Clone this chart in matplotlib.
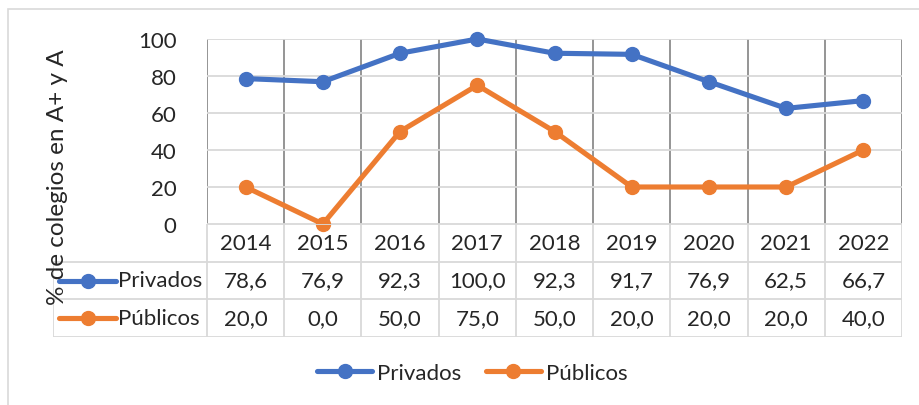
import matplotlib
matplotlib.use("Agg")
import matplotlib.pyplot as plt
from matplotlib.lines import Line2D
from matplotlib.patches import Rectangle

years = ["2014", "2015", "2016", "2017", "2018", "2019", "2020", "2021", "2022"]
privados = [78.6, 76.9, 92.3, 100.0, 92.3, 91.7, 76.9, 62.5, 66.7]
publicos = [20.0, 0.0, 50.0, 75.0, 50.0, 20.0, 20.0, 20.0, 40.0]
series_names = ["Privados", "Públicos"]
yticks = [0, 20, 40, 60, 80, 100]

BLUE = "#4472C4"
ORANGE = "#ED7D31"
TEXT = "#262626"
LIGHT = "#D9D9D9"
DARK = "#8C8C8C"
FS = 16

plt.rcParams["font.family"] = ["Lato", "DejaVu Sans"]

W, H = 919, 406
fig = plt.figure(figsize=(W / 100, H / 100), dpi=100)

def px(x0, y0, x1, y1):
    # pixel box (top-left origin) -> figure fraction rect
    return [x0 / W, 1 - y1 / H, (x1 - x0) / W, (y1 - y0) / H]

# outer chart frame
fig.add_artist(Rectangle((8 / W, -0.1), 1.2, 1.1 - 10 / H, transform=fig.transFigure,
                         fill=False, edgecolor=LIGHT, linewidth=1.2))

n = len(years)
xs = list(range(n))

ax = fig.add_axes(px(207, 40, 902, 225))
ax.set_xlim(-0.5, n - 0.5)
ax.set_ylim(0, 100)
for s in ax.spines.values():
    s.set_visible(False)
ax.set_yticks(yticks)
ax.set_yticklabels([str(t) for t in yticks], fontsize=FS, color=TEXT)
ax.set_xticks([])
ax.set_xticks([k - 0.5 for k in range(n + 1)], minor=True)
ax.tick_params(axis="both", which="both", length=0, pad=22)
ax.grid(axis="y", which="major", color=LIGHT, linewidth=1.3)
ax.grid(axis="x", which="minor", color=DARK, linewidth=1.3)
ax.set_axisbelow(True)

ax.plot(xs, privados, color=BLUE, lw=3.7, marker="o", ms=10, clip_on=False, zorder=3)
ax.plot(xs, publicos, color=ORANGE, lw=3.7, marker="o", ms=10, clip_on=False, zorder=3)

# data table under the plot
colw = 695 / n
left = -0.5 - (207 - 53) / colw
tab = fig.add_axes(px(53, 225, 902, 338))
tab.set_xlim(left, n - 0.5)
tab.set_ylim(3, 0)
tab.axis("off")

tab.hlines(0, -0.5, n - 0.5, color=LIGHT, lw=1.3)
tab.hlines([1, 2, 3], left, n - 0.5, color=LIGHT, lw=1.3)
tab.vlines(left, 1, 3, color=LIGHT, lw=1.3)
tab.vlines([k - 0.5 for k in range(n + 1)], 0, 3, color=LIGHT, lw=1.3)

def fmt(v):
    return f"{v:.1f}".replace(".", ",")

for i, yr in enumerate(years):
    tab.text(i, 0.5, yr, ha="center", va="center", fontsize=FS, color=TEXT)
for row, (vals, color, name) in enumerate(zip([privados, publicos], [BLUE, ORANGE], series_names), start=1):
    y = row + 0.5
    k0 = (59 - 207) / colw - 0.5
    k1 = (116 - 207) / colw - 0.5
    tab.plot([k0, k1], [y, y], color=color, lw=3.7, solid_capstyle="round")
    tab.plot([(k0 + k1) / 2], [y], color=color, marker="o", ms=10)
    tab.text((118 - 207) / colw - 0.5, y, name, ha="left", va="center", fontsize=FS, color=TEXT)
    for i, v in enumerate(vals):
        tab.text(i, y, fmt(v), ha="center", va="center", fontsize=FS, color=TEXT)

fig.text(58 / W, 1 - 177 / H, "% de colegios en A+ y A", rotation=90,
         ha="center", va="center", fontsize=17.5, color=TEXT)

handles = [Line2D([], [], color=c, lw=3.7, marker="o", ms=10, solid_capstyle="round")
           for c in (BLUE, ORANGE)]
leg = fig.legend(handles, series_names, loc="center", bbox_to_anchor=(472 / W, 1 - 374 / H),
                 ncol=2, frameon=False, fontsize=FS, handlelength=2.5, handletextpad=0.2,
                 columnspacing=1.1)
for t in leg.get_texts():
    t.set_color(TEXT)

fig.savefig("out.png", dpi=100, facecolor="white")
